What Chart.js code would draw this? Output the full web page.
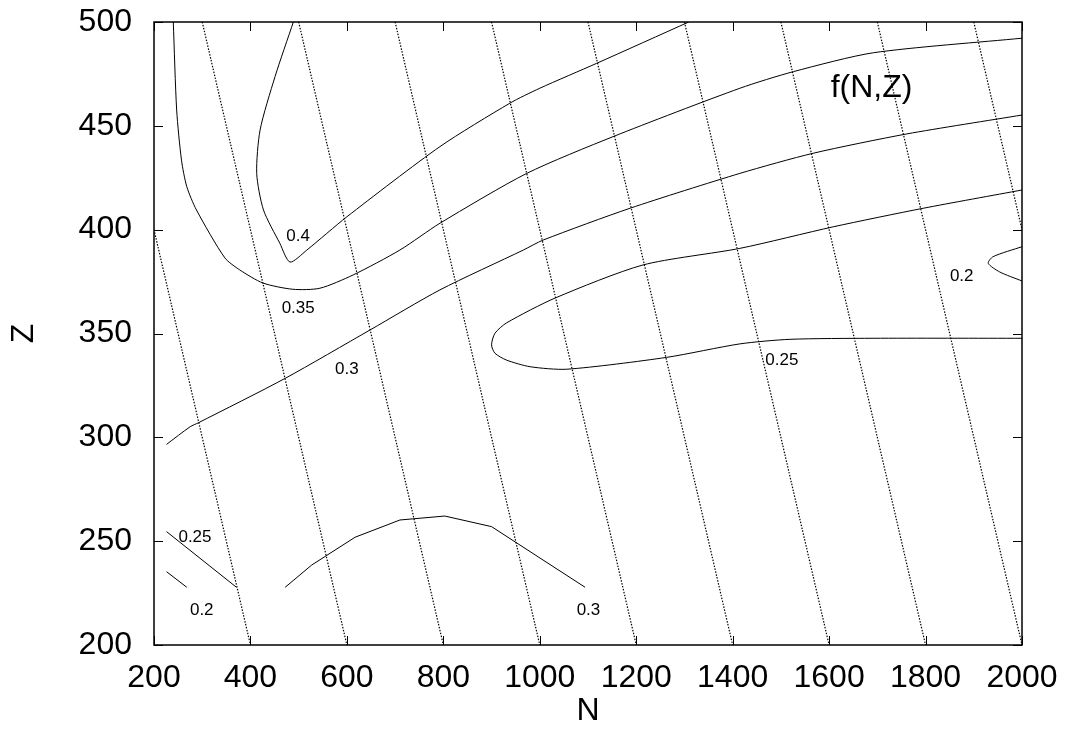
<!DOCTYPE html>
<html>
<head>
<meta charset="utf-8">
<script src="https://cdn.jsdelivr.net/npm/chart.js@4.4.1/dist/chart.umd.min.js"></script>
<style>
html,body{margin:0;padding:0;background:#fff;}
#wrap{width:1066px;height:730px;position:relative;}
</style>
</head>
<body>
<div id="wrap"><canvas id="c"></canvas></div>
<script>
// ---- axis ticks ----
const xTicks = [200, 400, 600, 800, 1000, 1200, 1400, 1600, 1800, 2000];
const yTicks = [200, 250, 300, 350, 400, 450, 500];

// ---- contour 0.4 ----
const c040N = [489, 451, 420, 413, 427, 461, 482, 517, 600, 793, 938, 1000, 1118, 1309];
const c040Z = [500, 473.7, 448, 427.1, 409.5, 393.4, 384.4, 390.2, 406.2, 440, 460.9, 468.1, 480.1, 500];

// ---- contour 0.35 ----
const c035N = [240, 247, 257, 268, 288, 347, 378, 426, 488, 544, 613, 710, 793, 973, 1152, 1415, 1526, 1692, 2000];
const c035Z = [500, 457.6, 433.5, 420.7, 409.5, 386.4, 380.6, 374.3, 371.3, 371.8, 378.2, 390.2, 403.1, 427.1, 444.8, 468.1, 476.1, 485.2, 492.2];

// ---- contour 0.3 (upper) ----
const c030N = [226, 275, 292, 472, 648, 793, 966, 1007, 1187, 1415, 1567, 1761, 2000];
const c030Z = [296.6, 305.1, 307.0, 328.4, 351.7, 371.0, 390.2, 395.0, 410.3, 427.1, 436.8, 446.1, 455.2];

// ---- contour 0.25 (closed towards right edge) ----
const c025N = [2000, 1795, 1609, 1415, 1214, 1032, 931, 907, 900, 907, 931, 980, 1056, 1263, 1415, 1519, 1691, 2000];
const c025Z = [419.1, 410.3, 401.4, 391.0, 383.0, 367.1, 355.1, 350.1, 344.5, 340.5, 337.2, 334.0, 332.8, 338.5, 345.0, 347.2, 347.7, 347.7];

// ---- contour 0.2 (right edge) ----
const c020N = [2000, 1940, 1930, 1954, 2000];
const c020Z = [391.8, 387.0, 383.8, 379.6, 375.3];

// ---- lower contours (coarse polylines) ----
const low025N = [226, 371];
const low025Z = [254.6, 227.8];
const low020N = [226, 268];
const low020Z = [235.3, 227.8];
const low030N = [472, 527, 617, 710, 803, 900, 1094];
const low030Z = [227.8, 238.5, 251.9, 260.2, 262.1, 257.0, 227.8];

// ---- dotted slanted lines ----
const slantTopN = [100, 300, 500, 700, 900, 1100, 1300, 1500, 1700, 1900];
const slantBottomN = [400, 600, 800, 1000, 1200, 1400, 1600, 1800, 2000, 2200];
const slantTopZ = 500, slantBottomZ = 200;

// ---- contour labels ----
const labelText = ['0.4', '0.35', '0.3', '0.25', '0.2', '0.25', '0.2', '0.3'];
const labelN = [499, 499, 600, 1502, 1875, 285, 299, 1101];
const labelZ = [397.0, 362.1, 332.8, 337.2, 377.4, 251.9, 216.9, 216.9];
const keyText = 'f(N,Z)';
const keyN = 1688, keyZ = 468.2;

const FONT = '"Liberation Sans", Arial, Helvetica, sans-serif';

function pts(ns, zs) { return ns.map((n, i) => ({x: n, y: zs[i]})); }

const datasets = [];
slantTopN.forEach((t, i) => {
  datasets.push({
    data: [{x: t, y: slantTopZ}, {x: slantBottomN[i], y: slantBottomZ}],
    borderColor: '#000', borderWidth: 1.2, borderDash: [1.5, 1.5], tension: 0
  });
});
[[c040N, c040Z], [c035N, c035Z], [c030N, c030Z], [c025N, c025Z], [c020N, c020Z]].forEach(([n, z]) => {
  datasets.push({data: pts(n, z), borderColor: '#000', borderWidth: 1, tension: 0.25});
});
[[low025N, low025Z], [low020N, low020Z], [low030N, low030Z]].forEach(([n, z]) => {
  datasets.push({data: pts(n, z), borderColor: '#000', borderWidth: 1, tension: 0});
});

const framePlugin = {
  id: 'frame',
  afterDatasetsDraw(chart) {
    const {ctx, chartArea: a, scales: {x, y}} = chart;
    ctx.save();
    ctx.strokeStyle = '#000';
    ctx.lineWidth = 1;
    ctx.beginPath();
    xTicks.forEach(v => {
      const px = Math.round(x.getPixelForValue(v)) + 0.5;
      ctx.moveTo(px, a.bottom); ctx.lineTo(px, a.bottom - 9);
      ctx.moveTo(px, a.top); ctx.lineTo(px, a.top + 9);
    });
    yTicks.forEach(v => {
      const py = Math.round(y.getPixelForValue(v)) + 0.5;
      ctx.moveTo(a.left, py); ctx.lineTo(a.left + 9, py);
      ctx.moveTo(a.right, py); ctx.lineTo(a.right - 9, py);
    });
    ctx.stroke();
    ctx.lineWidth = 1.5;
    ctx.strokeRect(a.left, a.top, a.right - a.left, a.bottom - a.top);
    ctx.fillStyle = '#000';
    ctx.textAlign = 'center';
    ctx.textBaseline = 'middle';
    ctx.font = '17px ' + FONT;
    labelText.forEach((t, i) => {
      ctx.fillText(t, x.getPixelForValue(labelN[i]), y.getPixelForValue(labelZ[i]));
    });
    ctx.font = '32px ' + FONT;
    ctx.fillText(keyText, x.getPixelForValue(keyN), y.getPixelForValue(keyZ));
    ctx.restore();
  }
};

new Chart(document.getElementById('c'), {
  type: 'scatter',
  data: {datasets},
  options: {
    responsive: true,
    maintainAspectRatio: false,
    animation: false,
    devicePixelRatio: 1,
    showLine: true,
    elements: {point: {radius: 0, hoverRadius: 0}, line: {fill: false}},
    layout: {padding: {top: 22, right: 44, bottom: 0, left: 0}},
    plugins: {legend: {display: false}, tooltip: {enabled: false}},
    scales: {
      x: {
        type: 'linear', min: 200, max: 2000,
        afterBuildTicks: s => { s.ticks = xTicks.map(v => ({value: v})); },
        afterFit: s => { s.height = 85; s.paddingLeft = 0; s.paddingRight = 0; },
        grid: {display: false, drawTicks: false},
        border: {display: false},
        ticks: {color: '#000', font: {family: FONT, size: 32}, padding: 14, maxRotation: 0, autoSkip: false,
                callback: v => String(v)},
        title: {display: true, text: 'N', color: '#000', font: {family: FONT, size: 32}, padding: {top: 0, bottom: 0}}
      },
      y: {
        type: 'linear', min: 200, max: 500,
        afterBuildTicks: s => { s.ticks = yTicks.map(v => ({value: v})); },
        afterFit: s => { s.width = 154; s.paddingTop = 0; s.paddingBottom = 0; },
        grid: {display: false, drawTicks: false},
        border: {display: false},
        ticks: {color: '#000', font: {family: FONT, size: 32}, padding: 22, autoSkip: false,
                callback: v => String(v)},
        title: {display: true, text: 'Z', color: '#000', font: {family: FONT, size: 32}, padding: {top: 5, bottom: 0}}
      }
    }
  },
  plugins: [framePlugin]
});
</script>
</body>
</html>
